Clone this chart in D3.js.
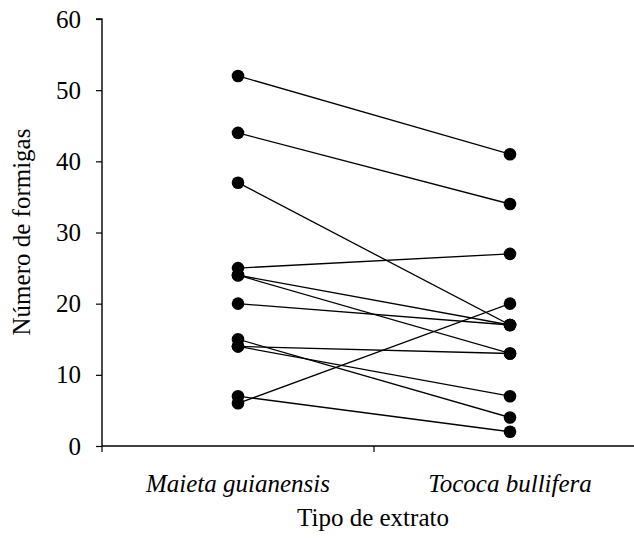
<!DOCTYPE html>
<html>
<head>
<meta charset="utf-8">
<script src="https://cdn.jsdelivr.net/npm/d3@7"></script>
<style>
  body { margin: 0; background: #fff; }
  svg text { font-family: "Times New Roman", "Liberation Serif", Times, "DejaVu Serif", serif; fill: #000; }
</style>
</head>
<body>
<svg id="chart"></svg>
<script>
var width = 634,
    height = 540;

var serif = '"Times New Roman", "Liberation Serif", Times, "DejaVu Serif", serif';

// categories and paired values (one pair per line)
var categories = ["Maieta guianensis", "Tococa bullifera"];
var maieta = [52, 44, 37, 25, 24, 24, 20, 15, 14, 14, 7, 6];
var tococa = [41, 34, 17, 27, 17, 13, 17, 4, 13, 7, 2, 20];
var yTicks = [0, 10, 20, 30, 40, 50, 60];

var pairs = maieta.map(function(d, i) { return [d, tococa[i]]; });

var svg = d3.select("#chart")
    .attr("width", width)
    .attr("height", height);

var x = d3.scaleBand()
    .domain(categories)
    .range([102, 646])
    .padding(0);

var y = d3.scaleLinear()
    .domain([0, 60])
    .range([446, 19]);

// y axis
var yAxis = svg.append("g")
    .attr("transform", "translate(102,0)")
    .call(d3.axisLeft(y).tickValues(yTicks).tickSize(6).tickPadding(15));
yAxis.attr("font-family", null);
yAxis.select(".domain").attr("stroke-width", 1.4).attr("d", "M-6,19H0V446");
yAxis.selectAll(".tick line").attr("stroke-width", 1.2);
yAxis.selectAll(".tick text")
    .style("font-size", "25px")
    .style("font-family", serif);

// x axis - ticks at band edges
var xAxis = svg.append("g")
    .attr("transform", "translate(0,446)");
xAxis.append("line")
    .attr("x1", 102).attr("x2", 646)
    .attr("y1", 0).attr("y2", 0)
    .attr("stroke", "#000").attr("stroke-width", 1.6);
xAxis.selectAll(".xtick")
    .data(categories)
    .enter().append("line")
    .attr("class", "xtick")
    .attr("x1", function(d) { return x(d); })
    .attr("x2", function(d) { return x(d); })
    .attr("y1", 0).attr("y2", 6)
    .attr("stroke", "#000").attr("stroke-width", 1.2);
xAxis.selectAll(".xlabel")
    .data(categories)
    .enter().append("text")
    .attr("class", "xlabel")
    .attr("x", function(d) { return x(d) + x.bandwidth() / 2; })
    .attr("y", 46)
    .attr("text-anchor", "middle")
    .style("font-family", serif)
    .style("font-size", "25px")
    .style("font-style", "italic")
    .text(function(d) { return d; });

// axis titles
svg.append("text")
    .attr("x", 373)
    .attr("y", 526)
    .attr("text-anchor", "middle")
    .style("font-family", serif)
    .style("font-size", "25px")
    .text("Tipo de extrato");

svg.append("text")
    .attr("transform", "translate(30,232) rotate(-90)")
    .attr("text-anchor", "middle")
    .style("font-family", serif)
    .style("font-size", "25px")
    .text("Número de formigas");

var cx0 = x(categories[0]) + x.bandwidth() / 2,
    cx1 = x(categories[1]) + x.bandwidth() / 2;

// connecting lines
svg.append("g").selectAll("line")
    .data(pairs)
    .enter().append("line")
    .attr("x1", cx0)
    .attr("y1", function(d) { return y(d[0]); })
    .attr("x2", cx1)
    .attr("y2", function(d) { return y(d[1]); })
    .attr("stroke", "#000")
    .attr("stroke-width", 1.3);

// points
var pts = svg.append("g");
pts.selectAll(".p0")
    .data(maieta)
    .enter().append("circle")
    .attr("class", "p0")
    .attr("cx", cx0)
    .attr("cy", function(d) { return y(d); })
    .attr("r", 6.3)
    .attr("fill", "#000");
pts.selectAll(".p1")
    .data(tococa)
    .enter().append("circle")
    .attr("class", "p1")
    .attr("cx", cx1)
    .attr("cy", function(d) { return y(d); })
    .attr("r", 6.3)
    .attr("fill", "#000");
</script>
</body>
</html>
